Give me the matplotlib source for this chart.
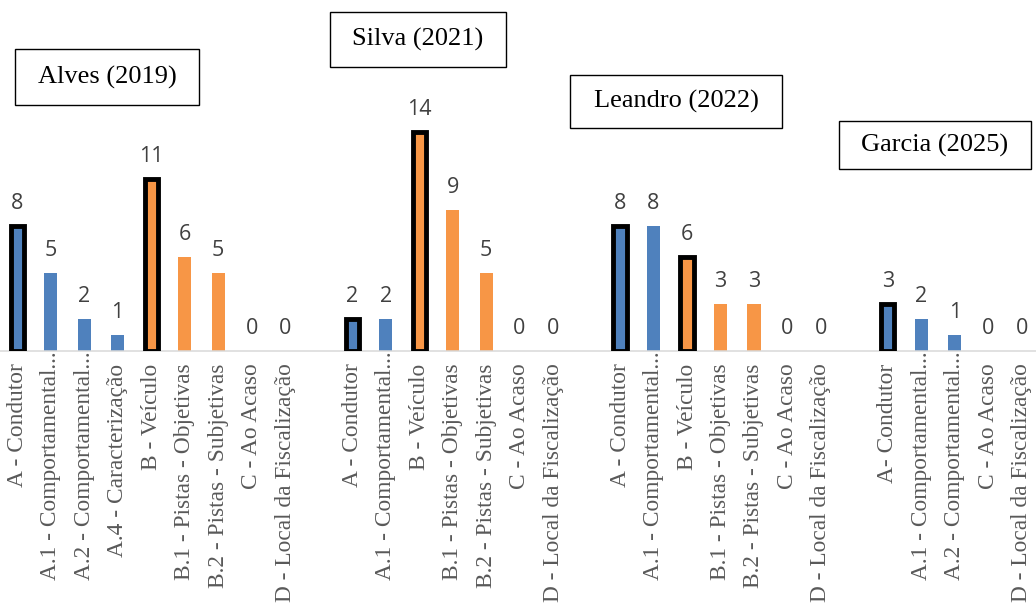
import matplotlib
matplotlib.use("Agg")
import matplotlib.pyplot as plt
from matplotlib.patches import Rectangle

# --- data -----------------------------------------------------------------
studies = ["Alves (2019)", "Silva (2021)", "Leandro (2022)", "Garcia (2025)"]

alves_cats = ["A - Condutor", "A.1 - Comportamental...", "A.2 - Comportamental...",
              "A.4 - Caracterização", "B - Veículo", "B.1 - Pistas - Objetivas",
              "B.2 - Pistas - Subjetivas", "C - Ao Acaso", "D - Local da Fiscalização"]
alves_vals = [8, 5, 2, 1, 11, 6, 5, 0, 0]

silva_cats = ["A - Condutor", "A.1 - Comportamental...", "B - Veículo",
              "B.1 - Pistas - Objetivas", "B.2 - Pistas - Subjetivas",
              "C - Ao Acaso", "D - Local da Fiscalização"]
silva_vals = [2, 2, 14, 9, 5, 0, 0]

leandro_cats = ["A - Condutor", "A.1 - Comportamental...", "B - Veículo",
                "B.1 - Pistas - Objetivas", "B.2 - Pistas - Subjetivas",
                "C - Ao Acaso", "D - Local da Fiscalização"]
leandro_vals = [8, 8, 6, 3, 3, 0, 0]

garcia_cats = ["A- Condutor", "A.1 - Comportamental...", "A.2 - Comportamental...",
               "C - Ao Acaso", "D - Local da Fiscalização"]
garcia_vals = [3, 2, 1, 0, 0]

groups = [(alves_cats, alves_vals), (silva_cats, silva_vals),
          (leandro_cats, leandro_vals), (garcia_cats, garcia_vals)]

BLUE = "#4F81BD"
ORANGE = "#F79646"
SERIF = "Liberation Serif"

# --- figure ---------------------------------------------------------------
W, H = 1036, 612
fig = plt.figure(figsize=(W / 100, H / 100), dpi=100)
fig.patch.set_facecolor("white")

slot = 33.49          # pixel width of one category slot
base_y = 350.5        # baseline position (pixels from top)
left_px = 17.2 - 0.5 * slot
n_slots = sum(len(c) for c, _ in groups) + len(groups) - 1
ax = fig.add_axes([left_px / W, (H - base_y) / H, n_slots * slot / W, base_y / H])
ax.set_xlim(-0.5, n_slots - 0.5)
ax.set_ylim(0, base_y / 15.6)

for side in ("top", "right", "left"):
    ax.spines[side].set_visible(False)
ax.spines["bottom"].set_color("#D9D9D9")
ax.spines["bottom"].set_linewidth(1.1)
ax.set_xticks([])
ax.set_yticks([])

pos = 0
group_starts = []
for cats, vals in groups:
    group_starts.append(pos)
    for cat, v in zip(cats, vals):
        color = BLUE if cat.startswith("A") else ORANGE
        main = "." not in cat.split(" ")[0]
        if v > 0:
            if main:
                ax.bar(pos, v, width=0.39, color=color, edgecolor="black",
                       linewidth=3.5, zorder=3)
            else:
                ax.bar(pos, v, width=0.39, color=color, linewidth=0, zorder=2)
        ax.annotate(str(v), xy=(pos, v), xytext=(0, 17), textcoords="offset pixels",
                    ha="center", va="baseline", fontsize=15.5, color="#404040",
                    family="Open Sans", zorder=4)
        truncated = cat.endswith("...")
        ax.annotate(cat, xy=(pos, 0), xycoords=("data", "axes fraction"),
                    xytext=(0, -1 if truncated else -13), textcoords="offset pixels",
                    rotation=90, ha="center", va="top", fontsize=16.8,
                    color="#595959", family=SERIF, annotation_clip=False)
        pos += 1
    pos += 1

# study title boxes (pixel extents: x0, y0, x1, y1 from top-left)
boxes = [(15, 49, 199, 105), (330, 12, 506, 67), (570, 75, 782, 128), (839, 121, 1031, 169)]
for title, (x0, y0, x1, y1) in zip(studies, boxes):
    rect = Rectangle((x0 / W, (H - y1) / H), (x1 - x0) / W, (y1 - y0) / H,
                     transform=fig.transFigure, facecolor="white",
                     edgecolor="black", linewidth=1.0, zorder=5)
    fig.add_artist(rect)
    fig.text((x0 + x1) / 2 / W, (H - (y0 + y1) / 2) / H, title,
             ha="center", va="center", fontsize=19, family=SERIF,
             color="black", zorder=6)

fig.savefig("out.png", dpi=100, facecolor="white")
